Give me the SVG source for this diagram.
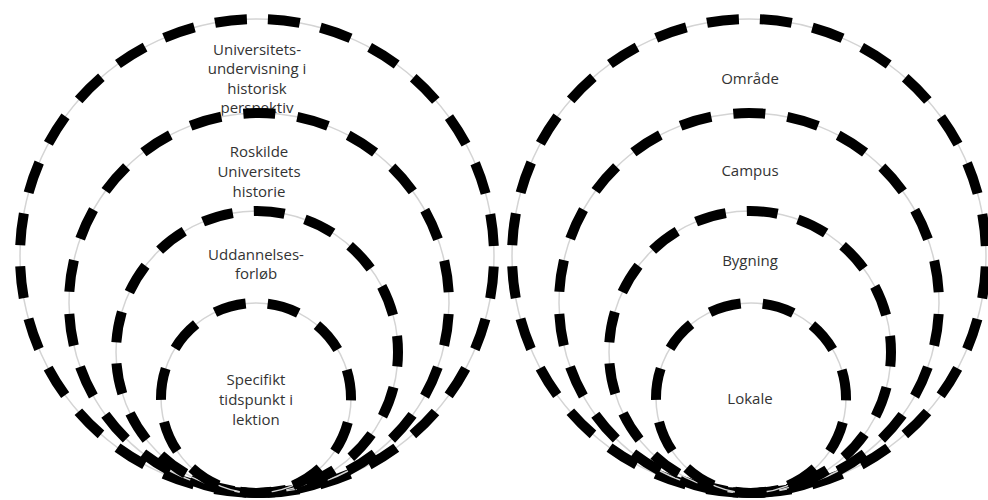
<svg xmlns="http://www.w3.org/2000/svg" width="988" height="500" viewBox="0 0 988 500">
<style>
.base{fill:none;stroke:#d4d4d4;stroke-width:1.5}
.d{fill:none;stroke:#000;stroke-width:10}
.r1{stroke-dasharray:32 21.18;stroke-dashoffset:42.59}
.r2{stroke-dasharray:32 22.26;stroke-dashoffset:43.13}
.r3{stroke-dasharray:31 21.11;stroke-dashoffset:16.48}
.r4{stroke-dasharray:32 22.26;stroke-dashoffset:29.56}
text{font-family:"Open Sans","Liberation Sans",sans-serif;font-size:15px;fill:#333;text-anchor:middle}
</style>
<rect width="988" height="500" fill="#fff"/>
<g id="left-1">
<circle class="base" cx="257" cy="256" r="237"/>
<circle class="d r1" cx="257" cy="256" r="237"/>
<text x="257" y="55">Universitets-</text>
<text x="257" y="74">undervisning i</text>
<text x="257" y="94">historisk</text>
<text x="257" y="113">perspektiv</text>
</g>
<g id="left-2">
<circle class="base" cx="259" cy="303" r="190"/>
<circle class="d r2" cx="259" cy="303" r="190"/>
<text x="259" y="157">Roskilde</text>
<text x="259" y="177">Universitets</text>
<text x="259" y="197">historie</text>
</g>
<g id="left-3">
<circle class="base" cx="257" cy="352" r="141"/>
<circle class="d r3" cx="257" cy="352" r="141"/>
<text x="256" y="260">Uddannelses-</text>
<text x="256" y="279">forløb</text>
</g>
<g id="left-4">
<circle class="base" cx="256" cy="398" r="95"/>
<circle class="d r4" cx="256" cy="398" r="95"/>
<text x="256" y="385">Specifikt</text>
<text x="256" y="405">tidspunkt i</text>
<text x="256" y="425">lektion</text>
</g>
<g id="right-1">
<circle class="base" cx="749" cy="256" r="237"/>
<circle class="d r1" cx="749" cy="256" r="237"/>
<text x="750" y="84">Område</text>
</g>
<g id="right-2">
<circle class="base" cx="749" cy="303" r="190"/>
<circle class="d r2" cx="749" cy="303" r="190"/>
<text x="750" y="176">Campus</text>
</g>
<g id="right-3">
<circle class="base" cx="750" cy="352" r="141"/>
<circle class="d r3" cx="750" cy="352" r="141"/>
<text x="750" y="266">Bygning</text>
</g>
<g id="right-4">
<circle class="base" cx="751" cy="398" r="95"/>
<circle class="d r4" cx="751" cy="398" r="95"/>
<text x="750" y="404">Lokale</text>
</g>
</svg>
